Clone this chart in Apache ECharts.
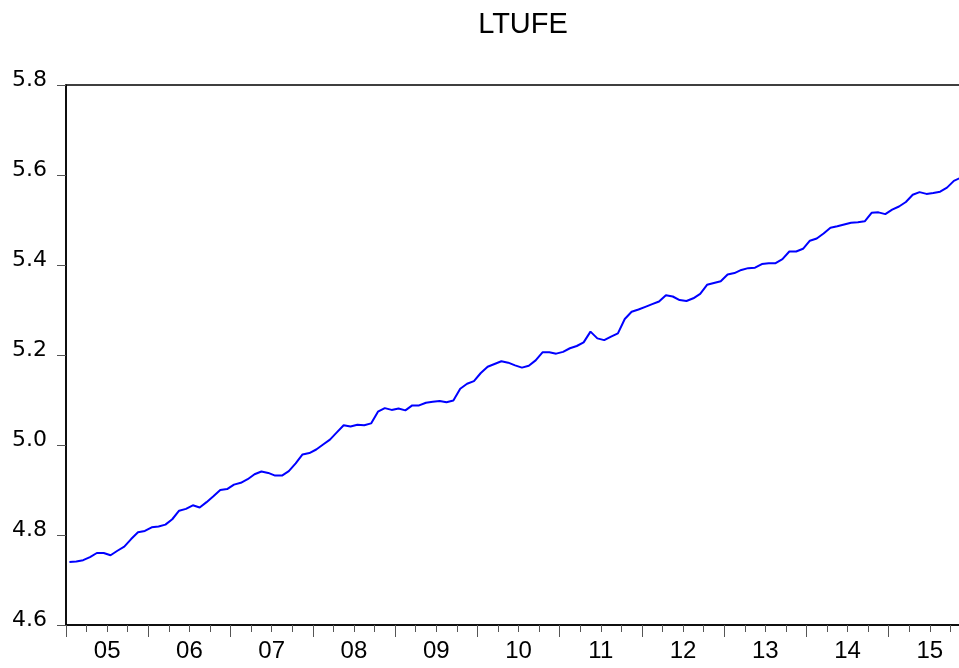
<!DOCTYPE html>
<html>
<head>
<meta charset="utf-8">
<script src="https://cdn.jsdelivr.net/npm/echarts@6/dist/echarts.min.js"></script>
<style>
html,body{margin:0;padding:0;background:#fff;}
#chart{width:959px;height:668px;}
</style>
</head>
<body>
<div id="chart"></div>
<script>
// Year labels (2005-2015), one band of 12 months each
var years = ['05','06','07','08','09','10','11','12','13','14','15'];
// Y axis tick range
var yMin = 4.6, yMax = 5.8, yStep = 0.2;
// Monthly LTUFE values starting 2005M01
var ltufe = [
  4.740, 4.741, 4.744, 4.751, 4.760, 4.760, 4.755, 4.765, 4.774, 4.791, 4.806, 4.809,
  4.817, 4.819, 4.823, 4.835, 4.854, 4.858, 4.866, 4.861, 4.873, 4.886, 4.900, 4.902,
  4.912, 4.916, 4.924, 4.935, 4.941, 4.938, 4.932, 4.932, 4.942, 4.959, 4.979, 4.982,
  4.990, 5.001, 5.012, 5.028, 5.044, 5.041, 5.045, 5.044, 5.048, 5.074, 5.082, 5.078,
  5.081, 5.077, 5.088, 5.088, 5.094, 5.096, 5.098, 5.095, 5.099, 5.125, 5.136, 5.142,
  5.160, 5.174, 5.180, 5.186, 5.183, 5.177, 5.172, 5.176, 5.188, 5.206, 5.206, 5.203,
  5.207, 5.215, 5.220, 5.228, 5.252, 5.237, 5.233, 5.241, 5.248, 5.280, 5.296, 5.301,
  5.307, 5.313, 5.319, 5.333, 5.330, 5.322, 5.320, 5.326, 5.336, 5.356, 5.360, 5.364,
  5.379, 5.382, 5.389, 5.393, 5.394, 5.402, 5.404, 5.404, 5.413, 5.430, 5.430, 5.436,
  5.454, 5.459, 5.470, 5.483, 5.486, 5.490, 5.494, 5.495, 5.497, 5.516, 5.517, 5.513,
  5.523, 5.530, 5.540, 5.556, 5.562, 5.558, 5.560, 5.563, 5.572, 5.587, 5.594
];

var nMonths = years.length * 12;
var seriesData = ltufe.map(function (v, i) { return [i + 0.5, v]; });

var font = 'Arial, "Liberation Sans", sans-serif';
var yFont = '"DejaVu Sans", Arial, sans-serif';
var chart = echarts.init(document.getElementById('chart'), null, {renderer: 'canvas'});
chart.setOption({
  animation: false,
  backgroundColor: '#ffffff',
  title: {
    text: 'LTUFE',
    left: 518,
    top: 5,
    textAlign: 'center',
    textStyle: {fontFamily: font, fontSize: 29, fontWeight: 'normal', color: '#000'}
  },
  grid: {
    left: 66, top: 85, width: 905, height: 540,
    outerBoundsMode: 'none',
    containLabel: false,
    show: true, borderColor: '#000', borderWidth: 1.5, backgroundColor: 'transparent'
  },
  xAxis: [
    {
      type: 'value', min: 0, max: nMonths, interval: 3,
      axisLine: {show: true, lineStyle: {color: '#000', width: 1.5}},
      axisTick: {show: true, inside: false, length: 7, lineStyle: {color: '#555', width: 1}},
      axisLabel: {show: false},
      splitLine: {show: false}
    },
    {
      type: 'category', data: years, boundaryGap: true, position: 'bottom',
      axisLine: {show: false},
      axisTick: {show: true, inside: false, length: 12, alignWithLabel: false, lineStyle: {color: '#555', width: 1}},
      axisLabel: {show: true, margin: 14, fontFamily: font, fontSize: 24, color: '#000'},
      splitLine: {show: false}
    }
  ],
  yAxis: {
    type: 'value', min: yMin, max: yMax, interval: yStep,
    axisLine: {show: true, lineStyle: {color: '#000', width: 1.5}},
    axisTick: {show: true, inside: false, length: 9, lineStyle: {color: '#555', width: 1}},
    axisLabel: {margin: 19, fontFamily: yFont, fontSize: 22, color: '#000',
      verticalAlign: 'bottom', lineHeight: 10,
      formatter: function (v) { return v.toFixed(1); }},
    splitLine: {show: false}
  },
  series: [{
    type: 'line', xAxisIndex: 0, data: seriesData,
    showSymbol: false, symbol: 'none',
    lineStyle: {color: '#0000ff', width: 2},
    clip: true
  }]
});
</script>
</body>
</html>
